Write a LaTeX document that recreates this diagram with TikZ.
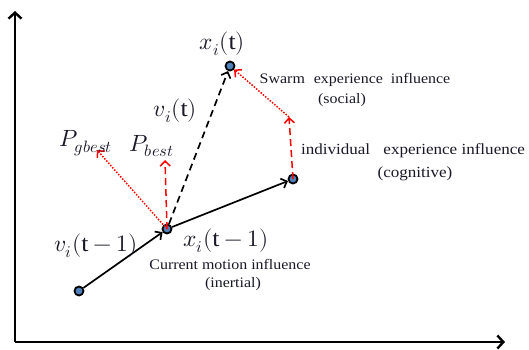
\documentclass[tikz,border=0pt]{standalone}
\usepackage{fontspec}
\usepackage{unicode-math}
\setmainfont{Liberation Serif}[FakeStretch=1.1]
\setmathfont{Latin Modern Math}
\usetikzlibrary{arrows.meta}
\definecolor{ptblue}{RGB}{79,129,189}
\definecolor{txt}{RGB}{25,25,40}
\begin{document}
\begin{tikzpicture}[x=1pt,y=-1pt,
  dot/.style={circle,draw=black,line width=1.8pt,fill=ptblue,inner sep=0pt,minimum size=9pt},
  barb/.style={-{Straight Barb[length=5pt,width=10pt]}},
  blk/.style={barb,draw=black,line width=1.7pt},
  blkdash/.style={blk,dash pattern=on 7pt off 4.5pt},
  reddash/.style={barb,draw=red,line width=1.5pt,dash pattern=on 7pt off 4pt},
  reddot/.style={barb,draw=red,line width=1.5pt,dash pattern=on 1.5pt off 1.5pt},
  axis/.style={draw=black,line width=2.4pt,-{Straight Barb[length=6pt,width=13pt,line width=2.4pt]}},
  mth/.style={text=txt,font=\fontsize{23.5}{27}\selectfont,inner sep=0pt},
  lbl/.style={text=txt,font=\fontsize{14.5}{17}\selectfont,inner sep=0pt},
  lblb/.style={text=txt,font=\fontsize{15.5}{18}\selectfont,inner sep=0pt}
]
\useasboundingbox (0,0) rectangle (529,349);
% axes
\coordinate (O) at (15,342);
\coordinate (Ytop) at (15,11);
\coordinate (Xend) at (505,342);
\draw[axis] (O) -- (Ytop);
\draw[axis] (O) -- (Xend);
% points
\node[dot] (A) at (79,291) {};
\node[dot] (B) at (167,229) {};
\node[dot] (C) at (293,179) {};
\node[dot] (D) at (230,66) {};
% free ends
\coordinate (pb) at (165,160);
\coordinate (pg) at (97,150);
\coordinate (cs) at (289,117);
% connectors
\draw[blk] (A) -- (B);
\draw[blk] (B) -- (C);
\draw[blkdash] (B) -- (D);
\draw[reddash] (B.center) -- (pb);
\draw[reddot] (B.center) -- (pg);
\draw[reddash] (C.center) -- (cs);
\draw[reddot] (cs) -- (D);
% labels
\node[mth] (lxt) at (222,44) {$x_i(\mathrm{t})$};
\node[mth] (lvt) at (175,111) {$v_i(\mathrm{t})$};
\node[mth] (lpg) at (86,143) {$P_{gbest}$};
\node[mth] (lpb) at (152,146) {$P_{best}$};
\node[mth] (lvt1) at (96,246) {$v_i(\mathrm{t}-1)$};
\node[mth] (lxt1) at (226,241) {$x_i(\mathrm{t}-1)$};
\node[lbl] (cm) at (230,264) {Current motion influence};
\node[lbl] (ci) at (233,284) {(inertial)};
\node[lbl] (sw) at (355,80) {Swarm\hspace{5pt} experience\hspace{4pt} influence};
\node[lbl] (so) at (342,100) {(social)};
\node[lblb] (ie) at (413,151) {individual\hspace{9pt} experience influence};
\node[lblb] (co) at (415,174) {(cognitive)};
\end{tikzpicture}
\end{document}
